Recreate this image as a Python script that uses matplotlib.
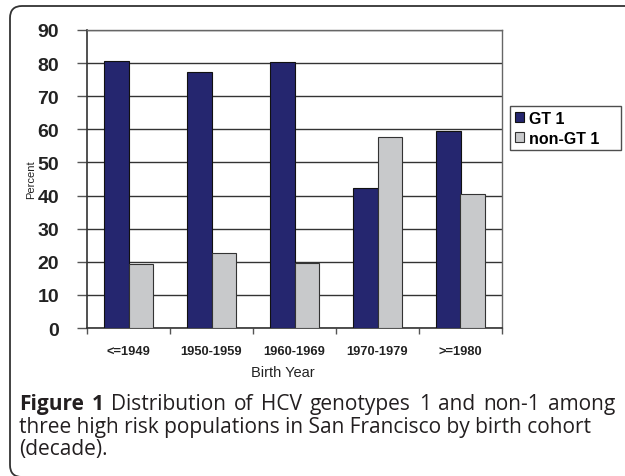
import matplotlib.pyplot as plt
from matplotlib.patches import FancyBboxPatch
from matplotlib.transforms import IdentityTransform
import numpy as np

categories = ["<=1949", "1950-1959", "1960-1969", "1970-1979", ">=1980"]
gt1 = [80.6, 77.3, 80.3, 42.2, 59.6]
non_gt1 = [19.4, 22.7, 19.7, 57.8, 40.4]
y_ticks = [0, 10, 20, 30, 40, 50, 60, 70, 80, 90]
caption_lines = [
    "Distribution of HCV genotypes 1 and non-1 among",
    "three high risk populations in San Francisco by birth cohort",
    "(decade).",
]

W, H = 625, 477
fig = plt.figure(figsize=(W / 100, H / 100), dpi=100)

# rounded frame around figure + caption (pixel coords)
frame = FancyBboxPatch((10, -1), 700, 471,
                       boxstyle="round,pad=0,rounding_size=12",
                       transform=IdentityTransform(), fill=False,
                       edgecolor="#333333", linewidth=1.3)
fig.patches.append(frame)

ax = fig.add_axes([87 / W, 1 - 329 / H, 415 / W, 298 / H])
x = np.arange(len(categories))
bw = 0.29
ax.bar(x - bw / 2, gt1, bw, color="#25266f", edgecolor="#111111", linewidth=0.8,
       label="GT 1", zorder=3)
ax.bar(x + bw / 2, non_gt1, bw, color="#c8c9cb", edgecolor="#333333", linewidth=0.8,
       label="non-GT 1", zorder=3)

ax.set_xlim(-0.5, len(categories) - 0.5)
ax.set_ylim(0, 90)
ax.set_yticks(y_ticks)
ax.set_yticklabels([str(v) for v in y_ticks], fontsize=14, fontweight="bold",
                   family="Liberation Sans", color="#222222")
ax.yaxis.grid(True, color="#333333", linewidth=1.0, zorder=0)
ax.tick_params(axis="y", length=7, width=1, color="#555555", pad=13)

ax.set_xticks(np.arange(len(categories) + 1) - 0.5)
ax.set_xticklabels([])
ax.set_xticks(x, minor=True)
ax.set_xticklabels(categories, minor=True, fontsize=9.3, fontweight="bold",
                   family="Liberation Sans", color="#222222")
ax.tick_params(axis="x", which="major", length=4, width=1, color="#555555")
ax.tick_params(axis="x", which="minor", length=0, pad=12)

for s in ["left", "bottom"]:
    ax.spines[s].set_color("#333333")
    ax.spines[s].set_linewidth(1.2)
for s in ["top", "right"]:
    ax.spines[s].set_color("#666666")
    ax.spines[s].set_linewidth(1.0)

fig.text(31 / W, 1 - 180 / H, "Percent", rotation=90, ha="center", va="center",
         fontsize=8, family="Liberation Sans", color="#222222")
fig.text(283 / W, 1 - 373 / H, "Birth Year", ha="center", va="center",
         fontsize=10.5, family="Liberation Sans", color="#222222")

leg = ax.legend(loc="upper left", bbox_to_anchor=(510 / W, 1 - 155 / H, 111 / W, 48 / H),
                bbox_transform=fig.transFigure, mode="expand", frameon=True,
                fancybox=False, handlelength=0.6, handleheight=0.6, handletextpad=0.3,
                borderpad=0.3, labelspacing=0.3, borderaxespad=0,
                prop={"family": "Liberation Sans", "weight": "bold", "size": 11.5})
leg.get_frame().set_edgecolor("#222222")
leg.get_frame().set_linewidth(1.0)

# caption, first line justified between x=19 and x=615
cap = {"family": "Open Sans", "size": 15, "color": "#231f20"}
renderer = fig.canvas.get_renderer()
pieces = [("Figure", "bold"), ("1", "bold")] + [(w, "normal") for w in caption_lines[0].split()]
arts = [fig.text(0, 1 - 410 / H, w, va="baseline", ha="left", fontweight=wt, **cap)
        for w, wt in pieces]
widths = [a.get_window_extent(renderer).width for a in arts]
gap = (615 - 19 - sum(widths)) / (len(arts) - 1)
xpos = 19
for a, w in zip(arts, widths):
    a.set_x(xpos / W)
    xpos += w + gap
fig.text(19 / W, 1 - 433 / H, caption_lines[1], va="baseline", ha="left", **cap)
fig.text(19 / W, 1 - 455 / H, caption_lines[2], va="baseline", ha="left", **cap)

fig.savefig("out.png", dpi=100)
